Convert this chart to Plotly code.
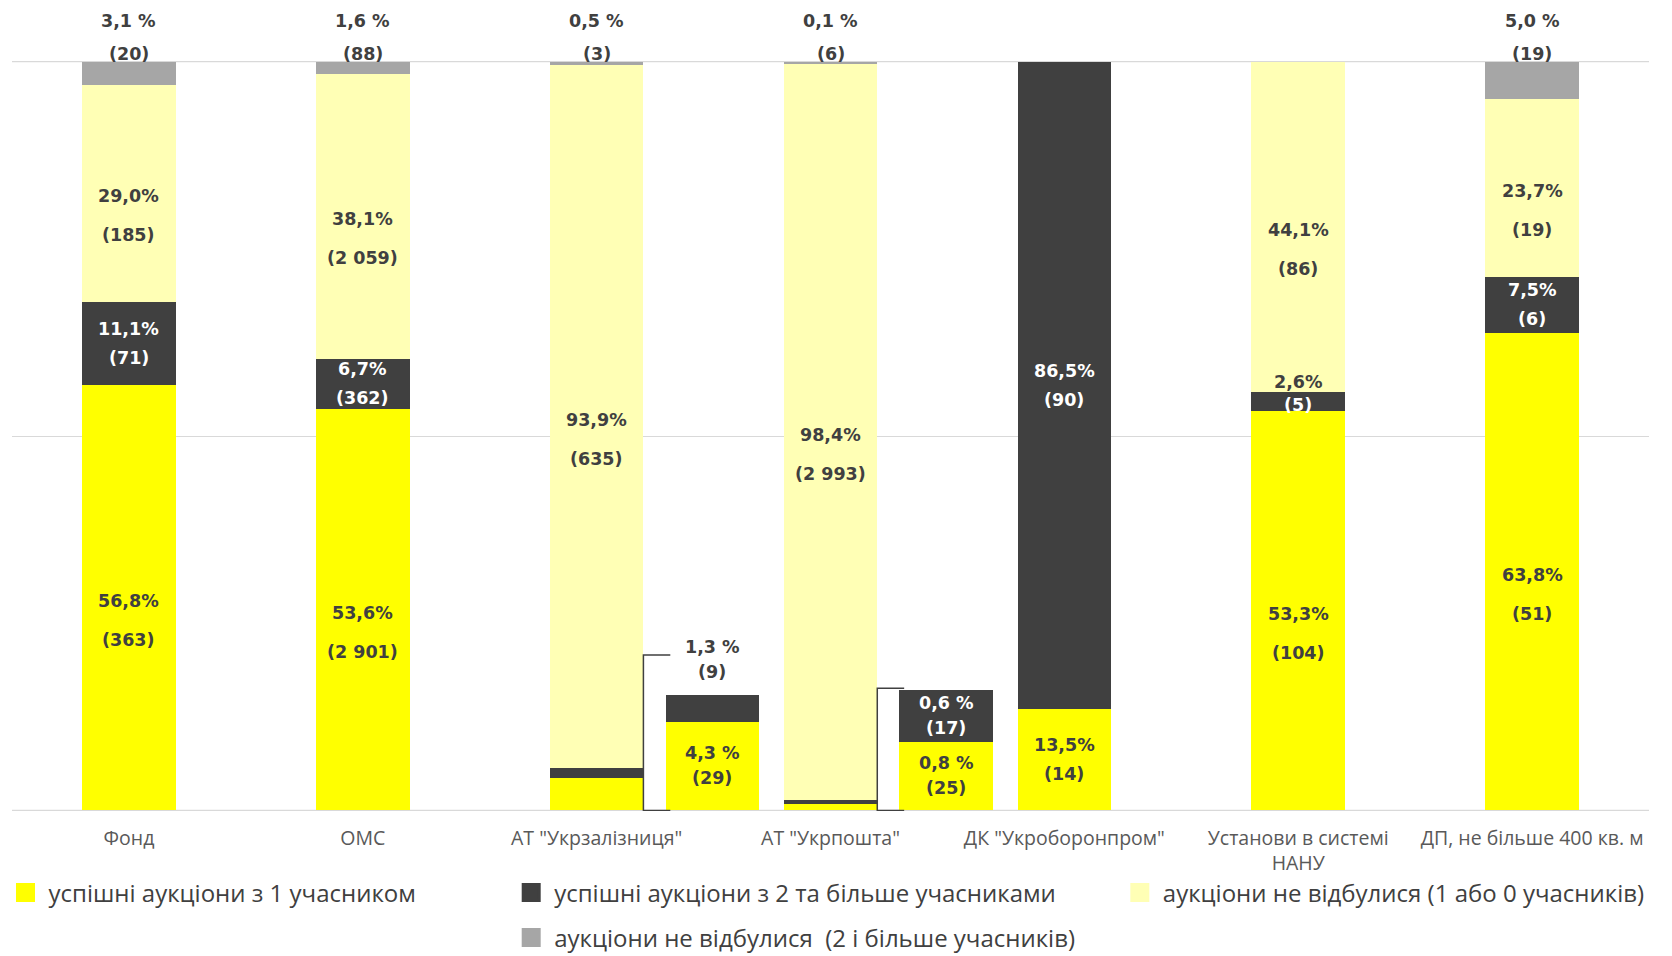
import plotly.graph_objects as go

# ---------------- data ----------------
categories = ["Фонд", "ОМС", "АТ \"Укрзалізниця\"", "АТ \"Укрпошта\"",
              "ДК \"Укроборонпром\"", "Установи в системі<br>НАНУ",
              "ДП, не більше 400 кв. м"]

series_names = ["успішні аукціони з 1 учасником",
                "успішні аукціони з 2 та більше учасниками",
                "аукціони не відбулися (1 або 0 учасників)",
                "аукціони не відбулися  (2 і більше учасників)"]

pct_one = [56.8, 53.6, 4.3, 0.8, 13.5, 53.3, 63.8]
cnt_one = [363, 2901, 29, 25, 14, 104, 51]
pct_multi = [11.1, 6.7, 1.3, 0.6, 86.5, 2.6, 7.5]
cnt_multi = [71, 362, 9, 17, 90, 5, 6]
pct_fail01 = [29.0, 38.1, 93.9, 98.4, 0.0, 44.1, 23.7]
cnt_fail01 = [185, 2059, 635, 2993, 0, 86, 19]
pct_fail2 = [3.1, 1.6, 0.5, 0.1, 0.0, 0.0, 5.0]
cnt_fail2 = [20, 88, 3, 6, 0, 0, 19]

# categories whose two small segments are shown again, magnified, beside the bar
inset_index = [2, 3]
inset_zoom = [2.76, 11.5]

# ---------------- style ----------------
colors = ["#FFFF00", "#404040", "#FFFFB5", "#A6A6A6"]
text_dark = "#404040"
grid_col = "#D9D9D9"
PAGE_W, PAGE_H = 1672, 956
OFF = 8                      # default page margin around the figure
W, H = PAGE_W - OFF, PAGE_H - OFF
PLOT_L, PLOT_R, PLOT_T, PLOT_B = 11.5, 1649.5, 61, 811   # page pixels
M_L, M_R = PLOT_L - OFF, W - (PLOT_R - OFF)
M_T, M_B = PLOT_T - OFF, H - (PLOT_B - OFF)
BAR_W = 0.4
INSET_OFFSET = 0.495
bracket_lift = [5.3, 0.2]
LABEL_SIZE = 17.5
px_per_unit = (PLOT_B - PLOT_T) / 100.0

pcts = [pct_one, pct_multi, pct_fail01, pct_fail2]
cnts = [cnt_one, cnt_multi, cnt_fail01, cnt_fail2]


def fmt_pct(v, spaced):
    s = f"{v:.1f}".replace(".", ",")
    return s + (" %" if spaced else "%")


def fmt_cnt(n):
    return "(" + f"{n:,}".replace(",", " ") + ")"


fig = go.Figure()

# bars (main + magnified insets in the same trace)
for s in range(4):
    xs = list(range(len(categories)))
    ys = list(pcts[s])
    if s < 2:
        for k, i in enumerate(inset_index):
            xs.append(i + INSET_OFFSET)
            ys.append(pcts[s][i] * inset_zoom[k])
    fig.add_trace(go.Bar(
        x=xs, y=ys, width=BAR_W, name=series_names[s],
        marker=dict(color=colors[s], line=dict(width=0)),
        showlegend=False, hoverinfo="skip"))

# legend entries
legend_ids = ["legend", "legend2", "legend3", "legend4"]
for s in range(4):
    fig.add_trace(go.Scatter(
        x=[None], y=[None], mode="markers", name=series_names[s],
        marker=dict(symbol="square", size=16, color=colors[s],
                    line=dict(color=colors[s], width=3)),
        legend=legend_ids[s], showlegend=True))

annotations = []


def add_label(x, y, text, yshift, color):
    annotations.append(dict(
        x=x, y=y, xref="x", yref="y", text=text, showarrow=False,
        yshift=yshift, xanchor="center", yanchor="middle",
        font=dict(family="DejaVu Sans", size=LABEL_SIZE, color=color, weight="bold")))


for i in range(len(categories)):
    base = 0.0
    for s in range(4):
        v = pcts[s][i]
        if v <= 0:
            continue
        is_inset = (i in inset_index) and s < 2
        if is_inset:
            k = inset_index.index(i)
            z = inset_zoom[k]
            x = i + INSET_OFFSET
            zb = sum(pcts[q][i] for q in range(s)) * z
            seg_lo, seg_hi = zb, zb + v * z
        else:
            x = i
            seg_lo, seg_hi = base, base + v
        base += v
        h_px = (seg_hi - seg_lo) * px_per_unit
        mid = (seg_lo + seg_hi) / 2
        ptxt = fmt_pct(v, spaced=(s == 3 or is_inset))
        ctxt = fmt_cnt(cnts[s][i])
        inside_col = "#FFFFFF" if s == 1 else text_dark
        if s == 3:
            add_label(x, 100, ptxt, 41, text_dark)
            add_label(x, 100, ctxt, 8, text_dark)
        elif h_px < 40:
            if is_inset:
                add_label(x, seg_hi, ptxt, 48, text_dark)
                add_label(x, seg_hi, ctxt, 23, text_dark)
            else:
                add_label(x, seg_hi, ptxt, 10, text_dark)
                add_label(x, mid, ctxt, -3, inside_col)
        elif h_px < 110 or s == 1:
            gap = 25 if is_inset else 29
            add_label(x, mid, ptxt, gap / 2, inside_col)
            add_label(x, mid, ctxt, -gap / 2, inside_col)
        else:
            add_label(x, mid, ptxt, -3, inside_col)
            add_label(x, mid, ctxt, -42, inside_col)

shapes = []
# horizontal rules at the bottom and top of the scale
for yv in (0, 100):
    shapes.append(dict(type="line", xref="paper", yref="y", x0=0, x1=1, y0=yv, y1=yv,
                       line=dict(color=grid_col, width=1.3), layer="below"))

# brackets linking the small segments to their magnified insets
for k, i in enumerate(inset_index):
    edge = i + BAR_W / 2
    zleft = i + INSET_OFFSET - BAR_W / 2
    ztop = (pct_one[i] + pct_multi[i]) * inset_zoom[k]
    ytop = ztop + bracket_lift[k]
    shapes.append(dict(
        type="path", xref="x", yref="y",
        path=f"M {zleft + 0.02},0 L {edge},0 L {edge},{ytop} L {zleft + 0.02},{ytop}",
        line=dict(color=text_dark, width=1.5), layer="above"))

legend_common = dict(xanchor="left", yanchor="middle", bgcolor="rgba(0,0,0,0)",
                     font=dict(family="Open Sans", size=24, color=text_dark),
                     orientation="h", itemwidth=36, itemsizing="trace")


def px_to_paper_x(px):
    return (px - PLOT_L) / (PLOT_R - PLOT_L)


def px_to_paper_y(py):
    return (PLOT_B - py) / (PLOT_B - PLOT_T)


fig.update_layout(
    width=W, height=H,
    margin=dict(l=M_L, r=M_R, t=M_T, b=M_B, pad=0, autoexpand=False),
    barmode="stack",
    paper_bgcolor="white", plot_bgcolor="white",
    annotations=annotations, shapes=shapes,
    xaxis=dict(range=[-0.5, 6.5], tickmode="array",
               tickvals=list(range(len(categories))), ticktext=categories,
               tickfont=dict(family="Open Sans", size=19.5, color="#595959"),
               showgrid=False, zeroline=False, showline=False,
               ticks="", ticklabelstandoff=13),
    yaxis=dict(range=[-0.08, 100.08], tickvals=[0, 50, 100], showticklabels=False,
               showgrid=True, gridcolor=grid_col, gridwidth=1.3,
               zeroline=False, showline=False, fixedrange=True),
    legend=dict(x=px_to_paper_x(2), y=px_to_paper_y(893), **legend_common),
    legend2=dict(x=px_to_paper_x(508), y=px_to_paper_y(893), **legend_common),
    legend3=dict(x=px_to_paper_x(1117), y=px_to_paper_y(893), **legend_common),
    legend4=dict(x=px_to_paper_x(508), y=px_to_paper_y(938), **legend_common),
)

fig.write_html("out.html")
